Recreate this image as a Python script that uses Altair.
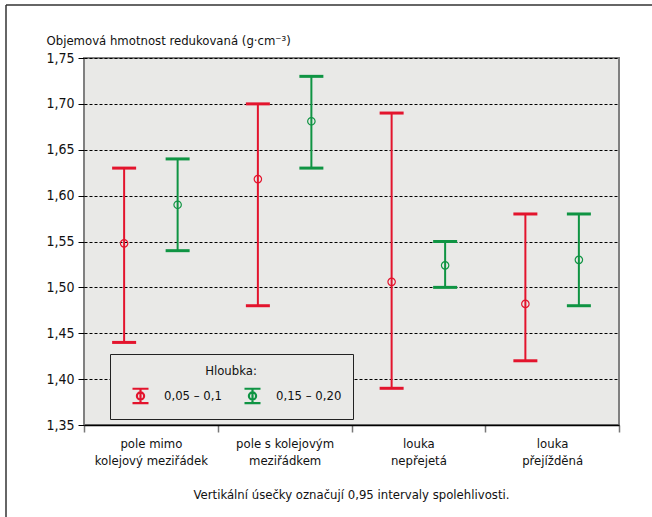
import altair as alt
import pandas as pd

categories = ["pole mimo\nkolejový meziřádek", "pole s kolejovým\nmeziřádkem",
              "louka\nnepřejetá", "louka\npřejížděná"]
depths = ["0,05 – 0,1", "0,15 – 0,20"]

mean_shallow = [1.548, 1.618, 1.506, 1.482]
lo_shallow = [1.44, 1.48, 1.39, 1.42]
hi_shallow = [1.63, 1.70, 1.69, 1.58]

mean_deep = [1.590, 1.681, 1.524, 1.530]
lo_deep = [1.54, 1.63, 1.50, 1.48]
hi_deep = [1.64, 1.73, 1.55, 1.58]

y_ticks = [1.35, 1.40, 1.45, 1.50, 1.55, 1.60, 1.65, 1.70, 1.75]

rows = []
for i, c in enumerate(categories):
    rows.append({"cat": c, "depth": depths[0], "mean": mean_shallow[i], "lo": lo_shallow[i], "hi": hi_shallow[i]})
    rows.append({"cat": c, "depth": depths[1], "mean": mean_deep[i], "lo": lo_deep[i], "hi": hi_deep[i]})
df = pd.DataFrame(rows)

FONT = "DejaVu Sans Condensed, Liberation Sans Narrow, sans-serif"
FS = 13
RED = "#e3142d"
GREEN = "#0f9443"

color_scale = alt.Scale(domain=depths, range=[RED, GREEN])

legend_symbol = ("M-1,-0.9H1M0,-0.9V0.9M-1,0.9H1"
                 "M0.45,0A0.45,0.45,0,1,1,-0.45,0A0.45,0.45,0,1,1,0.45,0")
legend = alt.Legend(title="Hloubka:", orient="none", legendX=26, legendY=296,
                    direction="horizontal", titleAnchor="middle",
                    titleFontSize=FS, titleFontWeight="normal", titleFont=FONT,
                    titleColor="#111", titlePadding=8,
                    labelFontSize=FS, labelFont=FONT, labelColor="#111",
                    labelOffset=14, columnPadding=11, symbolOffset=10,
                    symbolType=legend_symbol, symbolSize=256,
                    symbolStrokeWidth=2.2, symbolFillColor="transparent",
                    fillColor="#e9e9e7", strokeColor="#222",
                    padding=11)
color_enc = alt.Color("depth:N", scale=color_scale, legend=legend)

x_enc = alt.X("cat:N", sort=categories, title=None,
              scale=alt.Scale(paddingInner=0, paddingOuter=0),
              axis=alt.Axis(labelAngle=0, labelExpr="split(datum.label, '\\n')",
                            labelFontSize=FS, labelLineHeight=17, labelPadding=5,
                            labelColor="#111", labelFont=FONT,
                            tickBand="extent", tickColor="#777", tickSize=7, tickWidth=1.5,
                            domainColor="#000", domainWidth=1.5, grid=False))
xo_enc = alt.XOffset("depth:N", sort=depths, scale=alt.Scale(type="point", padding=0.75))
y_scale = alt.Scale(domain=[1.35, 1.75], nice=False, zero=False)

base = alt.Chart(df)

rules = base.mark_rule(strokeWidth=2).encode(
    x=x_enc, xOffset=xo_enc,
    y=alt.Y("lo:Q", scale=y_scale,
            axis=alt.Axis(values=y_ticks, labelExpr="replace(format(datum.value, '.2f'), '.', ',')",
                          labelFontSize=14, labelFont=FONT, labelColor="#111", labelPadding=4,
                          tickColor="#000", tickSize=6, tickWidth=1,
                          grid=True, gridColor="#000", gridDash=[3, 2], gridWidth=1, gridOpacity=1,
                          domain=False,
                          title="Objemová hmotnost redukovaná (g·cm⁻³)",
                          titleAngle=0, titleX=-38, titleY=-18, titleAlign="left",
                          titleBaseline="middle", titleFontSize=FS, titleFontWeight="normal",
                          titleFont=FONT, titleColor="#111")),
    y2="hi:Q",
    color=color_enc,
)

cap_shape = "M-1,0H1"
caps_hi = base.mark_point(shape=cap_shape, size=576, strokeWidth=3, filled=False, opacity=1).encode(
    x=x_enc, xOffset=xo_enc, y=alt.Y("hi:Q", scale=y_scale), color=color_enc,
)
caps_lo = base.mark_point(shape=cap_shape, size=576, strokeWidth=3, filled=False, opacity=1).encode(
    x=x_enc, xOffset=xo_enc, y=alt.Y("lo:Q", scale=y_scale), color=color_enc,
)
means = base.mark_point(shape="circle", size=55, strokeWidth=1.2, filled=False, opacity=1).encode(
    x=x_enc, xOffset=xo_enc, y=alt.Y("mean:Q", scale=y_scale), color=color_enc,
)

frame_left = alt.Chart(pd.DataFrame({"k": [0]})).mark_rule(color="#333", strokeWidth=1.5).encode(
    x=alt.value(-78), y=alt.value(-53), y2=alt.value(460))
frame_top = alt.Chart(pd.DataFrame({"k": [0]})).mark_rule(color="#333", strokeWidth=1.5).encode(
    x=alt.value(-78), x2=alt.value(570), y=alt.value(-53))

chart = alt.layer(rules, caps_hi, caps_lo, means, frame_left, frame_top).properties(
    width=535, height=367,
    padding={"left": 84, "top": 58, "right": 33, "bottom": 92},
    autosize=alt.AutoSizeParams(type="none"),
    background="white",
    title=alt.Title("Vertikální úsečky označují 0,95 intervaly spolehlivosti.",
                    orient="bottom", anchor="middle", fontSize=FS, fontWeight="normal",
                    font=FONT, color="#111", offset=-30),
).configure_view(fill="#e9e9e7", stroke="#808080", strokeWidth=2)

chart.save("out.html", embed_options={"renderer": "svg", "actions": False})
